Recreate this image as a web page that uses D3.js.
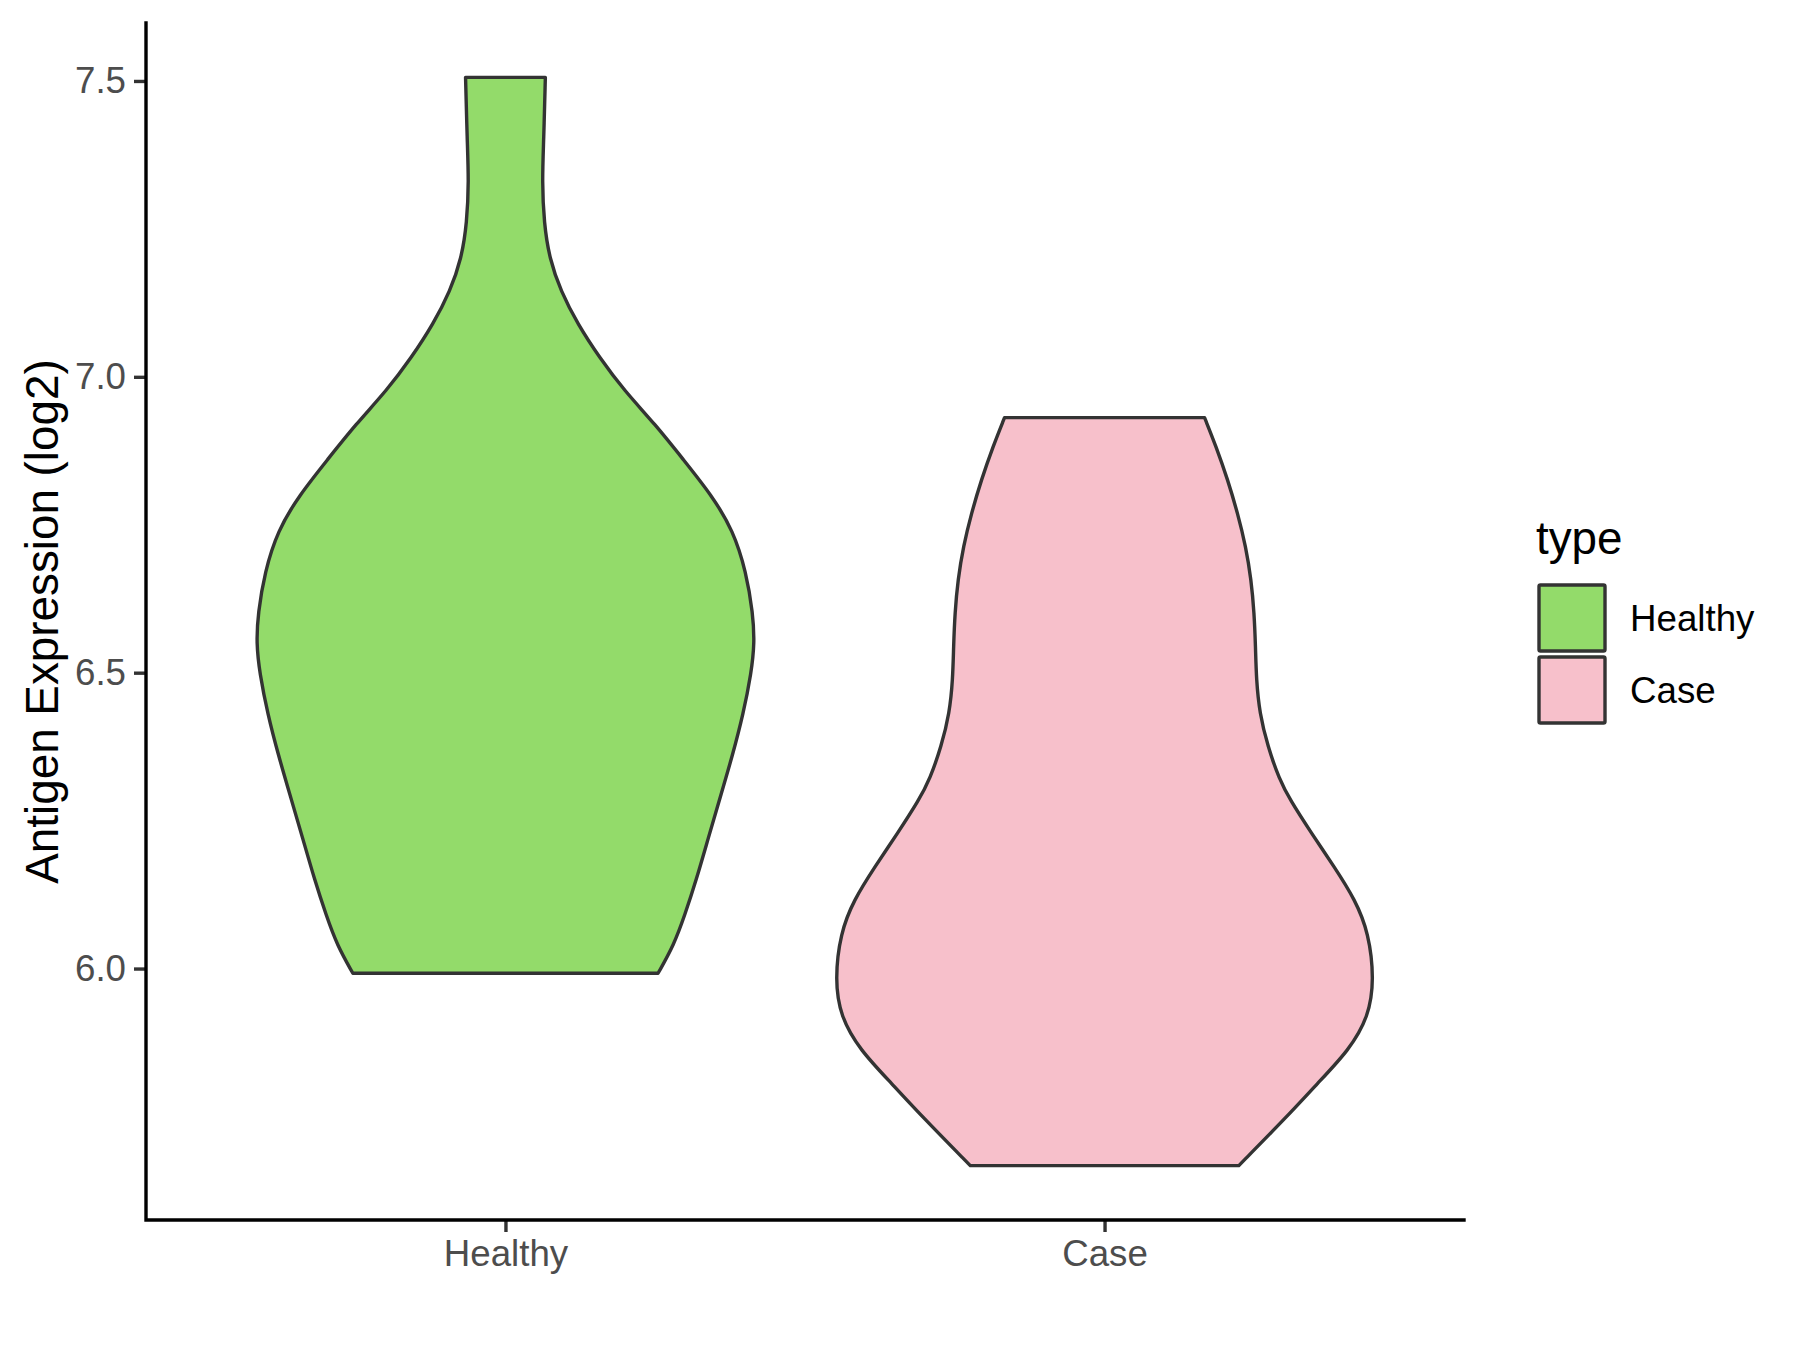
<!DOCTYPE html>
<html>
<head>
<meta charset="utf-8">
<script src="https://cdn.jsdelivr.net/npm/d3@7"></script>
<style>
  html, body { margin: 0; padding: 0; background: #ffffff; }
  svg { display: block; font-family: "Liberation Sans", Arial, sans-serif; }
</style>
</head>
<body>
<svg id="chart" width="1800" height="1350"></svg>
<script>
// ---- data ----
const categories = ["Healthy", "Case"];
const fillColors = ["#93DB6A", "#F7C0CB"];
const yTicks = [6.0, 6.5, 7.0, 7.5];

// violin outline: expression values and relative density (1 = widest violin)
const healthyValues  = [7.506, 7.40, 7.33, 7.26, 7.20, 7.145, 7.089, 7.033, 6.977, 6.92, 6.86, 6.80, 6.74, 6.67, 6.60, 6.55, 6.50, 6.43, 6.36, 6.29, 6.22, 6.15, 6.09, 6.04, 5.992];
const healthyDensity = [0.148, 0.142, 0.136, 0.143, 0.163, 0.205, 0.268, 0.348, 0.440, 0.555, 0.660, 0.765, 0.845, 0.893, 0.918, 0.924, 0.912, 0.882, 0.842, 0.797, 0.752, 0.708, 0.665, 0.625, 0.566];
const caseValues  = [6.931, 6.882, 6.826, 6.769, 6.713, 6.657, 6.601, 6.545, 6.488, 6.432, 6.376, 6.320, 6.285, 6.229, 6.172, 6.116, 6.060, 5.981, 5.919, 5.862, 5.806, 5.750, 5.667];
const caseDensity = [0.371, 0.414, 0.457, 0.494, 0.524, 0.544, 0.555, 0.560, 0.563, 0.575, 0.605, 0.648, 0.688, 0.767, 0.852, 0.930, 0.980, 1.000, 0.980, 0.907, 0.790, 0.677, 0.498];

const violins = [
  { name: "Healthy", values: healthyValues, density: healthyDensity },
  { name: "Case", values: caseValues, density: caseDensity }
];

// ---- layout ----
const svg = d3.select("#chart");
const panel = { left: 146, right: 1464, top: 23, bottom: 1220 };

const allVals = healthyValues.concat(caseValues);
const vmin = d3.min(allVals), vmax = d3.max(allVals);
const pad = (vmax - vmin) * 0.05;

const y = d3.scaleLinear().domain([vmin - pad, vmax + pad]).range([panel.bottom, panel.top]);
const x = d3.scalePoint().domain(categories).range([panel.left, panel.right]).padding(0.6);
const color = d3.scaleOrdinal().domain(categories).range(fillColors);
const halfMax = x.step() * 0.45;

// violins
const area = d3.area()
  .curve(d3.curveBasis)
  .y(d => y(d.v))
  .x0(d => d.cx - d.d * halfMax)
  .x1(d => d.cx + d.d * halfMax);

violins.forEach(vi => {
  const cx = x(vi.name);
  const pts = vi.values.map((v, i) => ({ v: v, d: vi.density[i], cx: cx }));
  svg.append("path")
    .attr("d", area(pts))
    .attr("fill", color(vi.name))
    .attr("stroke", "#333333")
    .attr("stroke-width", 3.4)
    .attr("stroke-linejoin", "round");
});

// axes
const yAxis = d3.axisLeft(y).tickValues(yTicks).tickFormat(d3.format(".1f")).tickSize(12).tickPadding(8);
const gy = svg.append("g").attr("transform", `translate(${panel.left},0)`).call(yAxis);
gy.select(".domain").remove();
gy.selectAll(".tick line").attr("stroke", "#333333").attr("stroke-width", 3.4);
gy.selectAll(".tick text").attr("fill", "#4D4D4D").style("font-size", "36.7px")
  .style("font-family", "'Liberation Sans', Arial, sans-serif");

const xAxis = d3.axisBottom(x).tickSize(12).tickPadding(8);
const gx = svg.append("g").attr("transform", `translate(0,${panel.bottom})`).call(xAxis);
gx.select(".domain").remove();
gx.selectAll(".tick line").attr("stroke", "#333333").attr("stroke-width", 3.4);
gx.selectAll(".tick text").attr("fill", "#4D4D4D").style("font-size", "36.7px")
  .style("font-family", "'Liberation Sans', Arial, sans-serif");

// axis lines
svg.append("path")
  .attr("d", `M${panel.left},${panel.top}V${panel.bottom}H${panel.right}`)
  .attr("fill", "none").attr("stroke", "#000000").attr("stroke-width", 3.4)
  .attr("stroke-linecap", "square");

// y title
svg.append("text")
  .attr("transform", `translate(58,${(panel.top + panel.bottom) / 2}) rotate(-90)`)
  .attr("text-anchor", "middle")
  .style("font-size", "45.8px")
  .attr("fill", "#000000")
  .text("Antigen Expression (log2)");

// legend
const lg = svg.append("g").attr("transform", "translate(1536,0)");
lg.append("text").attr("x", 0).attr("y", 554).style("font-size", "45.8px").attr("fill", "#000").text("type");
categories.forEach((c, i) => {
  const top = 585 + i * 72;
  lg.append("rect")
    .attr("x", 3).attr("y", top).attr("width", 66).attr("height", 66)
    .attr("fill", color(c)).attr("stroke", "#333333").attr("stroke-width", 3.4)
    .attr("rx", 1.5);
  lg.append("text")
    .attr("x", 94).attr("y", top + 33).attr("dy", "0.35em")
    .style("font-size", "36.7px").attr("fill", "#000").text(c);
});
</script>
</body>
</html>
